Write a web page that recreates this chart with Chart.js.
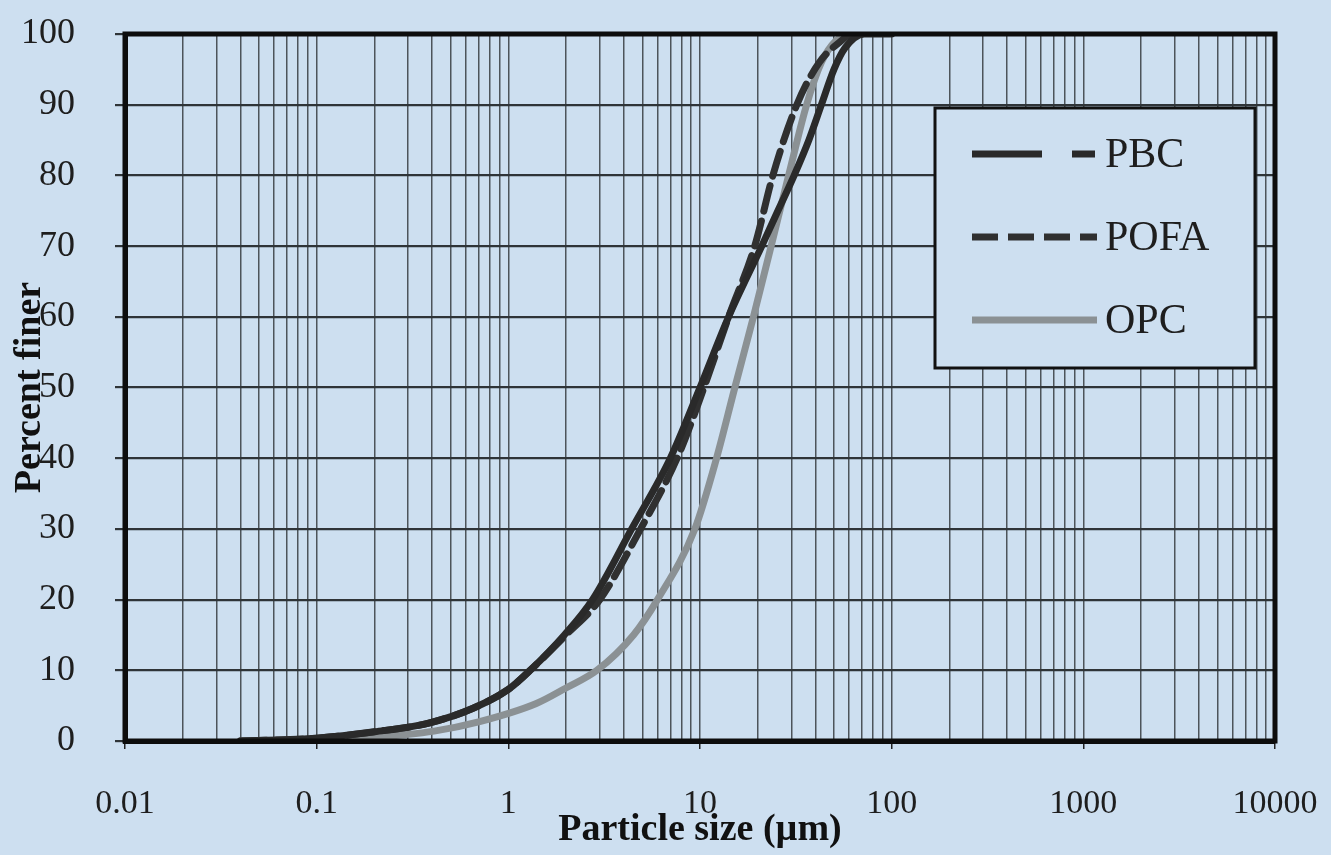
<!DOCTYPE html>
<html>
<head>
<meta charset="utf-8">
<script src="https://cdn.jsdelivr.net/npm/chart.js@4"></script>
<style>
  html, body { margin: 0; padding: 0; background: #cddff0; }
  canvas { display: block; }
</style>
</head>
<body>
<canvas id="psd" width="1331" height="855"></canvas>
<script>
// decades on the log axis (also the tick labels)
var xDecades = [0.01, 0.1, 1, 10, 100, 1000, 10000];
var xTickLabels = ["0.01", "0.1", "1", "10", "100", "1000", "10000"];

var seriesNames = ["PBC", "POFA", "OPC"];

// particle size (um) / percent finer
var pbcSize = [0.04, 0.1, 0.2, 0.38, 0.65, 1.0, 1.3, 1.96, 2.75, 4.4, 7.0, 10.0, 14.1, 21, 25.5, 31, 37, 43, 50, 57, 72, 100];
var pbcFiner = [0, 0.4, 1.3, 2.5, 4.6, 7.3, 10, 15, 20, 30, 40, 50, 60, 70, 75, 80, 85, 90, 95, 98, 100, 100];

var pofaSize = [0.04, 0.1, 0.2, 0.38, 0.65, 1.0, 1.3, 2.0, 3.0, 4.9, 7.6, 10.5, 14.1, 19.3, 24, 32, 42, 60];
var pofaFiner = [0, 0.4, 1.3, 2.5, 4.6, 7.3, 10, 15, 20, 30, 40, 50, 60, 70, 80, 90, 96, 100];

var opcSize = [0.04, 0.1, 0.2, 0.41, 0.7, 1.4, 2.0, 2.9, 4.5, 6.0, 9.4, 12.2, 15.2, 19, 23.5, 29, 36, 43, 51, 60];
var opcFiner = [0, 0.1, 0.5, 1.4, 2.7, 5.3, 7.5, 10, 15, 20, 30, 40, 50, 60, 70, 80, 90, 96, 99, 100];

var yTicks = [0, 10, 20, 30, 40, 50, 60, 70, 80, 90, 100];

function toPoints(xs, ys) {
  return xs.map(function (x, i) { return { x: x, y: ys[i] }; });
}

function isDecade(v) {
  for (var i = 0; i < xDecades.length; i++) {
    if (Math.abs(v - xDecades[i]) < xDecades[i] * 1e-6) return i;
  }
  return -1;
}

var bgColor = "#cddff0";
var lineColors = ["#2a2a2a", "#303030", "#8b9194"];
var legendDash = [[70, 30, 23, 30], [26, 10], []];

var boxLegend = {
  id: "boxLegend",
  afterDraw: function (chart) {
    var ctx = chart.ctx;
    var a = chart.chartArea;
    var left = a.right - 340, top = a.top + 74, w = 320, h = 260;
    ctx.save();
    ctx.fillStyle = bgColor;
    ctx.fillRect(left, top, w, h);
    ctx.lineWidth = 3;
    ctx.strokeStyle = "#111";
    ctx.strokeRect(left, top, w, h);
    chart.data.datasets.forEach(function (ds, i) {
      var y = top + 46 + i * 83;
      ctx.beginPath();
      ctx.setLineDash(legendDash[i]);
      ctx.lineWidth = 7;
      ctx.strokeStyle = ds.borderColor;
      ctx.moveTo(left + 37, y);
      ctx.lineTo(left + 162, y);
      ctx.stroke();
      ctx.setLineDash([]);
      ctx.fillStyle = "#1e1e1e";
      ctx.font = "42px 'Liberation Serif'";
      ctx.textBaseline = "middle";
      ctx.fillText(ds.label, left + 170, y + 2);
    });
    ctx.restore();
  }
};

var frame = {
  id: "frame",
  afterDatasetsDraw: function (chart) {
    var ctx = chart.ctx;
    var a = chart.chartArea;
    ctx.save();
    ctx.strokeStyle = "#0d0d0d";
    ctx.lineWidth = 5;
    ctx.strokeRect(a.left, a.top, a.right - a.left, a.bottom - a.top);
    ctx.restore();
  }
};

var ctx = document.getElementById("psd").getContext("2d");
var chart = new Chart(ctx, {
  type: "line",
  data: {
    datasets: [
      {
        label: seriesNames[0],
        data: toPoints(pbcSize, pbcFiner),
        borderColor: lineColors[0],
        borderWidth: 7
      },
      {
        label: seriesNames[1],
        data: toPoints(pofaSize, pofaFiner),
        borderColor: lineColors[1],
        borderWidth: 7,
        borderDash: [26, 10]
      },
      {
        label: seriesNames[2],
        data: toPoints(opcSize, opcFiner),
        borderColor: lineColors[2],
        borderWidth: 7
      }
    ]
  },
  options: {
    responsive: false,
    animation: false,
    layout: { padding: { top: 34, right: 56, bottom: 0, left: 0 } },
    elements: {
      point: { radius: 0 },
      line: { cubicInterpolationMode: "monotone", borderCapStyle: "round" }
    },
    plugins: {
      legend: { display: false },
      tooltip: { enabled: false }
    },
    scales: {
      x: {
        type: "logarithmic",
        min: xDecades[0],
        max: xDecades[xDecades.length - 1],
        afterBuildTicks: function (scale) {
          var ticks = [];
          for (var d = 0; d < xDecades.length - 1; d++) {
            for (var k = 1; k <= 9; k++) ticks.push({ value: k * xDecades[d] });
          }
          ticks.push({ value: xDecades[xDecades.length - 1] });
          scale.ticks = ticks;
        },
        afterFit: function (scale) {
          scale.height = 114;
          scale.paddingLeft = 0;
          scale.paddingRight = 0;
        },
        grid: {
          color: "#4d545a",
          lineWidth: 1.5,
          tickLength: 8,
          tickColor: function (c) {
            return c.tick && isDecade(c.tick.value) >= 0 ? "#222" : "rgba(0,0,0,0)";
          }
        },
        border: { color: "#0d0d0d", width: 5 },
        ticks: {
          autoSkip: false,
          maxRotation: 0,
          minRotation: 0,
          padding: 35,
          color: "#1e1e1e",
          font: { family: "'Liberation Serif'", size: 34 },
          callback: function (value) {
            var i = isDecade(value);
            return i >= 0 ? xTickLabels[i] : "";
          }
        },
        title: {
          display: true,
          text: "Particle size (\u00b5m)",
          color: "#111",
          font: { family: "'Liberation Serif'", size: 38, weight: "bold" },
          padding: { top: 0, bottom: 2 }
        }
      },
      y: {
        min: 0,
        max: 100,
        afterBuildTicks: function (scale) {
          scale.ticks = yTicks.map(function (v) { return { value: v }; });
        },
        afterFit: function (scale) {
          scale.width = 125;
          scale.paddingTop = 0;
          scale.paddingBottom = 0;
        },
        grid: { color: "#2f3438", lineWidth: 2.2, tickLength: 10 },
        border: { color: "#0d0d0d", width: 5 },
        ticks: {
          padding: 40,
          color: "#1e1e1e",
          font: { family: "'Liberation Serif'", size: 36 }
        },
        title: {
          display: true,
          text: "Percent finer",
          color: "#111",
          font: { family: "'Liberation Serif'", size: 38, weight: "bold" },
          padding: { top: 7, bottom: 0 }
        }
      }
    }
  },
  plugins: [frame, boxLegend]
});
</script>
</body>
</html>
